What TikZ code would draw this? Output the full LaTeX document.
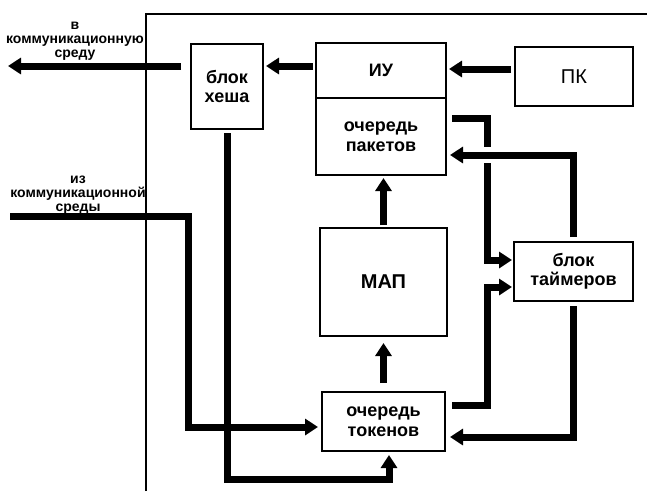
\documentclass[tikz,border=0pt]{standalone}
\usepackage{fontspec}
\setmainfont{Liberation Sans}
\usetikzlibrary{arrows.meta,positioning,calc}

\begin{document}
\begin{tikzpicture}[x=1pt,y=-1pt,
  blk/.style={draw,line width=1.3pt,outer sep=0pt,inner sep=0pt,align=center,
    font=\fontsize{18}{19.5}\selectfont\bfseries},
  arr/.style={line width=7pt,line join=miter,-{Triangle[length=13pt,width=16pt]}},
  lbl/.style={align=center,font=\fontsize{14}{14}\selectfont\bfseries}]
\useasboundingbox (0,0) rectangle (647,491);
% --- outer frame --------------------------------------------------------
\draw[line width=1.8pt] (146,491) -- (146,14) -- (647,14);
% --- blocks -------------------------------------------------------------
\node[blk,minimum width=72pt,minimum height=85pt] (hash) at (227,86.5) {блок\\хеша};
\node[blk,minimum width=130pt,minimum height=55pt] (iu) at (381,70.5) {ИУ};
\node[blk,minimum width=130pt,minimum height=77pt,below=0pt of iu] (pq) {очередь\\пакетов};
\node[blk,minimum width=118pt,minimum height=59pt,font=\fontsize{20}{22}\selectfont] (pk) at (574,76.5) {ПК};
\node[blk,minimum width=127pt,minimum height=108pt,font=\fontsize{20}{22}\selectfont\bfseries] (map) at (383.5,282) {МАП};
\node[blk,minimum width=119pt,minimum height=59pt] (tim) at (573.5,271.5) {блок\\таймеров};
\node[blk,minimum width=123pt,minimum height=59pt] (tq) at (383.5,421.5) {очередь\\токенов};
% --- outside labels
\node[lbl] (toL) at (75,41) {в\\коммуникационную\\среду};
\node[lbl] (fromL) at (78,195) {из\\коммуникационной\\среды};
% --- helper points for the routing
\coordinate (outL) at (8,66);
\coordinate (inL) at (10,216);
\coordinate (inB) at (188,216);
\coordinate (bus) at (487,0);
\coordinate (hb) at (0,479);
\coordinate (pkout) at ($(pk.west)+(0,-7.5)$);
\coordinate (p1) at ($(pq.east)+(6,-18.5)$);
\coordinate (p2) at ($(tq.east)+(7,-16.5)$);
\coordinate (p3) at ($(pq.east)+(0,18.5)$);
\coordinate (p4) at ($(tq.east)+(0,15.5)$);
\coordinate (p5) at ($(tq.west)+(0,5.5)$);
\coordinate (p6) at ($(tq.south)+(5.5,0)$);
\coordinate (t1) at ($(tim.west)+(0,-11.5)$);
\coordinate (t2) at ($(tim.west)+(0,15.5)$);
% --- connectors ---------------------------------------------------------
\draw[arr,shorten <=10pt] (hash.west |- outL) -- (outL);
\draw[arr,shorten <=3pt,shorten >=3pt] (iu.west |- outL) -- (hash.east |- outL);
\draw[arr,shorten <=4pt,shorten >=3pt] (pkout) -- (pkout -| iu.east);
\draw[arr,shorten >=2pt] (p1) -- (p1 -| bus) -- (bus |- t1) -- (t1);
\draw[arr,shorten >=2pt] (p2) -- (p2 -| bus) -- (bus |- t2) -- (t2);
% gap where the feedback line jumps over the bus
\coordinate (jump) at (bus |- p3);
\fill[white] ($(jump)+(-6,-8)$) rectangle ($(jump)+(6,8)$);
\draw[arr,shorten <=5pt,shorten >=4pt] (tim.north) |- (p3);
\draw[arr,shorten <=5pt,shorten >=5pt] (tim.south) |- (p4);
\draw[arr,shorten <=3pt,shorten >=3pt] (map.north) -- (map.north |- pq.south);
\draw[arr,shorten <=9pt,shorten >=7pt] (tq.north) -- (map.south);
\draw[arr,shorten >=4pt] (inL) -- (inB) |- (p5);
\draw[arr,shorten <=4pt,shorten >=4pt] (hash.south) -- (hash.south |- hb) -| (p6);
\end{tikzpicture}
\end{document}
